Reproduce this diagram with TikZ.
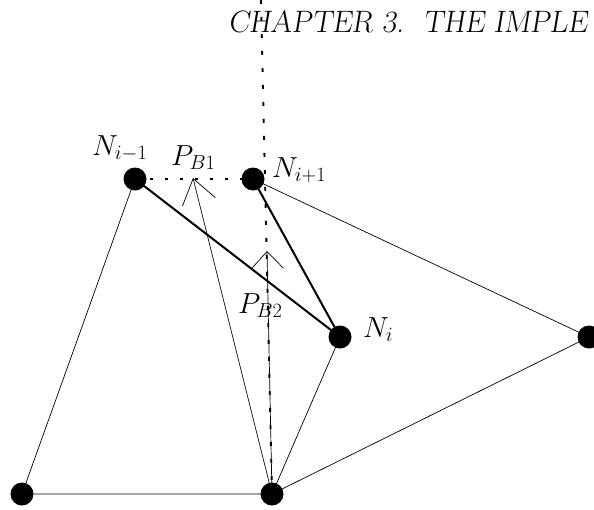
\RequirePackage{fix-cm}
\documentclass[tikz,border=0pt]{standalone}
\usetikzlibrary{arrows.meta}
\begin{document}
\begin{tikzpicture}[x=1pt,y=-1pt,
  vtx/.style={circle,fill=black,inner sep=0pt,minimum size=23pt},
  thin edge/.style={line width=0.7pt},
  thick edge/.style={line width=2pt},
  dot edge/.style={line width=2.6pt,dash pattern=on 3pt off 12pt},
  vdot edge/.style={line width=1.9pt,dash pattern=on 4pt off 13pt},
  lbl/.style={inner sep=0pt,anchor=base west,font=\fontsize{29}{33}\selectfont}]
\useasboundingbox (0,0) rectangle (594,509);
% header text
\node[inner sep=0pt,anchor=base west,font=\fontsize{31}{36}\selectfont\slshape] (hdr) at (228,32) {CHAPTER 3.\ \ THE IMPLE};
% vertices
\coordinate (Nim1) at (135,179);
\coordinate (Nip1) at (253,179);
\coordinate (Ni) at (340,337);
\coordinate (R) at (589,337);
\coordinate (BL) at (22,494);
\coordinate (BC) at (272,494);
\coordinate (top) at (261,0);
\coordinate (tipB1) at (193,178);
\coordinate (tipB2) at (267,251);
% thin edges
\draw[thin edge] (Nim1) -- (BL) -- (BC);
\draw[thin edge] (BC) -- (Ni);
\draw[thin edge] (BC) -- (R);
\draw[thin edge] (R) -- (Nip1);
% arrows
\draw[thin edge,-{Straight Barb[length=24pt,width=34pt]}] (BC) -- (tipB1);
\draw[thin edge,-{Straight Barb[length=17pt,width=32pt]}] (BC) -- (tipB2);
% thick edges
\draw[thick edge] (Nim1) -- (Ni);
\draw[thick edge] (Nip1) -- (Ni);
% dotted edges
\draw[dot edge] (Nim1) -- (Nip1);
\draw[vdot edge] (top) -- (BC);
% vertex discs
\node[vtx] (vNim1) at (Nim1) {};
\node[vtx] (vNip1) at (Nip1) {};
\node[vtx] (vNi) at (Ni) {};
\node[vtx] (vR) at (R) {};
\node[vtx] (vBL) at (BL) {};
\node[vtx] (vBC) at (BC) {};
% labels
\node[lbl] (lNim1) at (92,155) {$N_{i-1}$};
\node[lbl] (lNip1) at (272,177) {$N_{i+1}$};
\node[lbl] (lNi) at (363,337) {$N_{i}$};
\node[lbl] (lPB1) at (171,165) {$P_{B1}$};
\node[lbl] (lPB2) at (238,313) {$P_{B2}$};
\end{tikzpicture}
\end{document}
